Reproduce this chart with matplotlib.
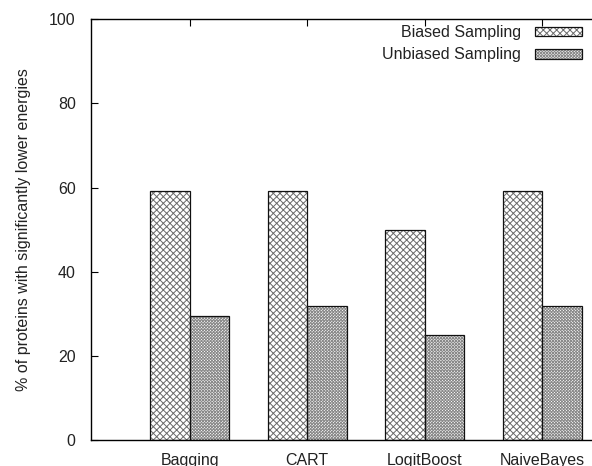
import matplotlib
matplotlib.use("Agg")
import matplotlib.pyplot as plt
import numpy as np

plt.rcParams["font.family"] = ["Liberation Sans", "DejaVu Sans"]
plt.rcParams["hatch.linewidth"] = 0.7

# ── data ────────────────────────────────────────────────
methods = ["Bagging", "CART", "LogitBoost", "NaiveBayes"]
biased = [59.1, 59.1, 50.0, 59.1]
unbiased = [29.5, 31.8, 25.0, 31.8]
yticks = [0, 20, 40, 60, 80, 100]

W = 0.336
FS = 11.5
TXT = "#222222"

fig = plt.figure(figsize=(5.92, 4.66), dpi=100)
ax = fig.add_axes([0.1537, 0.0552, 0.8463, 0.9034])

x = np.arange(len(methods))
# hatch layer (grey) + outline layer (black)
hb = ax.bar(x - W / 2, biased, W, facecolor="white", edgecolor="#6a6a6a",
            hatch="xxxxx", linewidth=0)
ob = ax.bar(x - W / 2, biased, W, fill=False, edgecolor="#111111",
            linewidth=0.9)
hu = ax.bar(x + W / 2, unbiased, W, facecolor="white", edgecolor="#8a8a8a",
            hatch="x" * 11, linewidth=0)
ou = ax.bar(x + W / 2, unbiased, W, fill=False, edgecolor="#111111",
            linewidth=0.9)

ax.set_xlim(-0.84, 3.424)
ax.set_ylim(0, 100)
ax.set_yticks(yticks)
ax.set_xticks(x)
ax.set_xticklabels(methods, fontsize=FS, color=TXT)
ax.tick_params(axis="y", direction="in", length=5, width=0.8,
               labelsize=FS, labelcolor=TXT, pad=11)
ax.tick_params(axis="x", direction="in", length=5, width=0.8,
               top=True, bottom=False, pad=9)
ax.spines["right"].set_visible(False)
for s in ("left", "top", "bottom"):
    ax.spines[s].set_linewidth(1.0)

ax.set_ylabel("% of proteins with significantly lower energies",
              fontsize=FS, color=TXT, labelpad=13)

leg = ax.legend([(hb[0], ob[0]), (hu[0], ou[0])],
                ["Biased Sampling", "Unbiased Sampling"],
                loc="upper right", bbox_to_anchor=(0.980, 0.986),
                frameon=False, markerfirst=False, fontsize=FS,
                handlelength=2.95, handleheight=0.55, handletextpad=0.85,
                labelspacing=0.45, borderaxespad=0, borderpad=0)
for t in leg.get_texts():
    t.set_ha("right")
    t.set_color(TXT)

fig.savefig("out.png", dpi=100)
